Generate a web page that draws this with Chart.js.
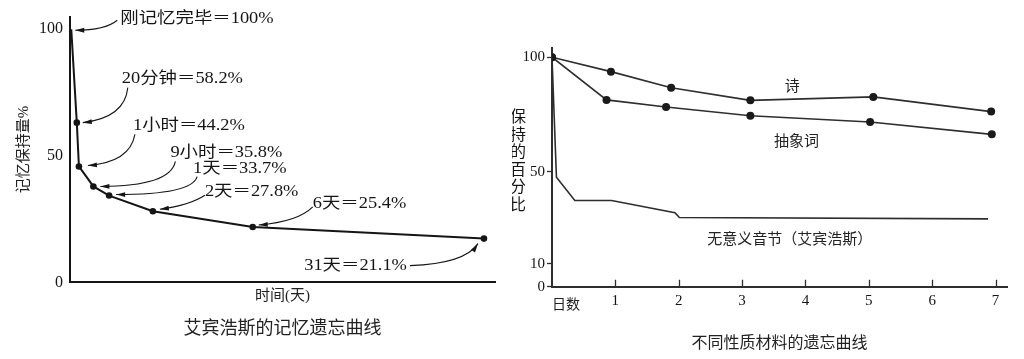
<!DOCTYPE html>
<html lang="zh">
<head>
<meta charset="utf-8">
<script src="https://cdn.jsdelivr.net/npm/chart.js@4.4.1/dist/chart.umd.min.js"></script>
<style>
  html, body { margin: 0; padding: 0; background: #fff; }
  #wrap { position: relative; width: 1024px; height: 359px; overflow: hidden; }
  .box { position: absolute; top: 0; width: 512px; height: 359px; }
  #leftBox { left: 0; }
  #rightBox { left: 512px; }
</style>
</head>
<body>
<div id="wrap">
  <div class="box" id="leftBox"><canvas id="ebbChart" width="512" height="359"></canvas></div>
  <div class="box" id="rightBox"><canvas id="matChart" width="512" height="359"></canvas></div>
</div>
<script>
// ─── Data ────────────────────────────────────────────────────────────────────

// Left: Ebbinghaus curve. The time axis is drawn schematically (not to scale),
// so x is the position along the drawn axis, 0–100.
const EBB_TIME_POS  = [0.3, 1.6, 2.1, 5.5, 9.2, 19.5, 43.0, 97.4];
const EBB_RETENTION = [100, 63.1, 45.8, 37.9, 34.3, 28.1, 21.9, 17.3];
const EBB_LABELS = [
  '刚记忆完毕＝100%',
  '20分钟＝58.2%',
  '1小时＝44.2%',
  '9小时＝35.8%',
  '1天＝33.7%',
  '2天＝27.8%',
  '6天＝25.4%',
  '31天＝21.1%',
];
const EBB_Y_TICKS = [0, 50, 100];

// Right: different materials, days vs percent retained
const POEM_DAYS       = [0, 0.93, 1.88, 3.13, 5.07, 6.93];
const POEM_VALUES     = [100, 93.7, 86.7, 81.2, 82.7, 76.3];
const ABSTRACT_DAYS   = [0, 0.86, 1.80, 3.13, 5.02, 6.94];
const ABSTRACT_VALUES = [100, 81.4, 78.3, 74.5, 71.8, 66.4];
const NONSENSE_DAYS   = [0, 0.07, 0.36, 0.94, 1.94, 2.01, 6.88];
const NONSENSE_VALUES = [100, 47.7, 37.6, 37.6, 32.3, 30.2, 29.6];
const DAY_TICKS = [1, 2, 3, 4, 5, 6, 7];
const PCT_TICKS = [0, 10, 50, 100];

// ─── Styles / layout ─────────────────────────────────────────────────────────

const SERIF = "'Liberation Serif', 'Noto Sans CJK SC', serif";
const SANS  = "'Noto Sans CJK SC', 'Noto Sans', sans-serif";
const INK   = '#151515';
const LINE2 = '#2e2e2e';

Chart.defaults.font.family = SERIF;
Chart.defaults.color = INK;

// annotation placement, px offsets from each point: text anchor, arrow start, curve control, arrow tip
const EBB_NOTE_LAYOUT = [
  { text: [49, -10],  from: [46, -9],  ctrl: [34, 1],   to: [4, 1] },
  { text: [45, -44],  from: [51, -35], ctrl: [48, -5],  to: [6, 0] },
  { text: [54, -41],  from: [56, -32], ctrl: [51, -4],  to: [9, -1] },
  { text: [77, -34],  from: [82, -25], ctrl: [77, 0],   to: [7, 0] },
  { text: [84, -27],  from: [88, -19], ctrl: [83, -1],  to: [7, -1] },
  { text: [52, -19],  from: [52, -16], ctrl: [37, -6],  to: [7, -2] },
  { text: [60, -23],  from: [60, -20], ctrl: [45, -5],  to: [6, -2] },
  { text: [-77, 27],  from: [-74, 27], ctrl: [-19, 25], to: [-6, 5], align: 'right' },
];
const NOTE_STRETCH = 1.15; // the scanned lettering is wider than it is tall

// series names on the right chart, in data units
const SERIES_NOTES = [
  { text: '诗',                   day: 3.79, pct: 87.9 },
  { text: '抽象词',               day: 3.86, pct: 64.0 },
  { text: '无意义音节（艾宾浩斯）', day: 3.75, pct: 21.3 },
];
const Y_TITLE_CHARS = ['保', '持', '的', '百', '分', '比'];

// ─── Helpers ─────────────────────────────────────────────────────────────────

function toPoints(xs, ys) {
  return xs.map((x, i) => ({ x, y: ys[i] }));
}

function drawArrow(ctx, x0, y0, cx, cy, x1, y1) {
  ctx.beginPath();
  ctx.moveTo(x0, y0);
  ctx.quadraticCurveTo(cx, cy, x1, y1);
  ctx.stroke();
  const a = Math.atan2(y1 - cy, x1 - cx);
  const len = 9, w = 2.4;
  const bx = x1 - len * Math.cos(a), by = y1 - len * Math.sin(a);
  ctx.beginPath();
  ctx.moveTo(x1, y1);
  ctx.lineTo(bx + w * Math.sin(a), by - w * Math.cos(a));
  ctx.lineTo(bx - w * Math.sin(a), by + w * Math.cos(a));
  ctx.closePath();
  ctx.fill();
}

// ─── Plugins ─────────────────────────────────────────────────────────────────

const ebbNotesPlugin = {
  id: 'ebbNotes',
  afterDraw(chart) {
    const { ctx } = chart;
    const meta = chart.getDatasetMeta(0);
    ctx.save();
    ctx.font = `16px ${SERIF}`;
    ctx.fillStyle = INK;
    ctx.strokeStyle = INK;
    ctx.lineWidth = 1.1;
    ctx.textBaseline = 'middle';
    EBB_NOTE_LAYOUT.forEach((n, i) => {
      const p = meta.data[i];
      ctx.save();
      ctx.translate(p.x + n.text[0], p.y + n.text[1]);
      ctx.scale(NOTE_STRETCH, 1);
      ctx.textAlign = n.align || 'left';
      ctx.fillText(EBB_LABELS[i], 0, 0);
      ctx.restore();
      drawArrow(ctx,
        p.x + n.from[0], p.y + n.from[1],
        p.x + n.ctrl[0], p.y + n.ctrl[1],
        p.x + n.to[0],   p.y + n.to[1]);
    });
    ctx.restore();
  },
};

const matDecorPlugin = {
  id: 'matDecor',
  afterDraw(chart) {
    const { ctx, scales: { x, y } } = chart;
    ctx.save();
    // inward tick marks on the day axis
    ctx.strokeStyle = LINE2;
    ctx.lineWidth = 1.3;
    ctx.beginPath();
    DAY_TICKS.forEach(d => {
      const px = Math.round(x.getPixelForValue(d)) + 0.5;
      ctx.moveTo(px, x.top);
      ctx.lineTo(px, x.top - 7);
    });
    ctx.stroke();

    // vertical y title
    ctx.fillStyle = INK;
    ctx.font = `16px ${SERIF}`;
    ctx.textAlign = 'center';
    ctx.textBaseline = 'middle';
    Y_TITLE_CHARS.forEach((ch, i) => ctx.fillText(ch, 6, 118 + i * 17.5));

    // series names
    ctx.font = `15px ${SANS}`;
    ctx.fillStyle = '#222';
    SERIES_NOTES.forEach(n => {
      ctx.fillText(n.text, x.getPixelForValue(n.day), y.getPixelForValue(n.pct));
    });
    ctx.restore();
  },
};

// ─── Left chart ──────────────────────────────────────────────────────────────

new Chart(document.getElementById('ebbChart'), {
  type: 'line',
  data: {
    datasets: [{
      data: toPoints(EBB_TIME_POS, EBB_RETENTION),
      borderColor: INK,
      borderWidth: 2,
      tension: 0,
      pointRadius: EBB_TIME_POS.map((_, i) => (i === 0 ? 0 : 3.3)),
      pointBackgroundColor: INK,
      pointBorderWidth: 0,
    }],
  },
  options: {
    responsive: false,
    animation: false,
    layout: { padding: { top: 16, right: 17, left: 0, bottom: 0 } },
    plugins: {
      legend: { display: false },
      tooltip: { enabled: false },
      title: {
        display: true,
        fullSize: false,
        position: 'bottom',
        text: '艾宾浩斯的记忆遗忘曲线',
        color: '#222',
        font: { size: 18, weight: 'normal' },
        padding: { top: 3, bottom: 19 },
      },
    },
    scales: {
      x: {
        type: 'linear',
        min: 0,
        max: 100,
        afterFit: s => { s.height = 33; },
        ticks: { display: false },
        grid: { drawOnChartArea: false, drawTicks: false },
        border: { color: INK, width: 2 },
        title: {
          display: true,
          text: '时间(天)',
          color: '#222',
          font: { size: 15 },
          padding: { top: 0, bottom: 10 },
        },
      },
      y: {
        min: 0,
        max: 105,
        afterBuildTicks: s => { s.ticks = EBB_Y_TICKS.map(v => ({ value: v })); },
        afterFit: s => { s.width = 70; },
        ticks: { padding: 7, color: INK, font: { size: 16 } },
        grid: { drawOnChartArea: false, drawTicks: false },
        border: { color: INK, width: 2 },
        title: {
          display: true,
          text: '记忆保持量%',
          color: '#222',
          font: { size: 15 },
          padding: { top: 15, bottom: 0 },
        },
      },
    },
  },
  plugins: [ebbNotesPlugin],
});

// ─── Right chart ─────────────────────────────────────────────────────────────

const dotStyle = {
  borderColor: LINE2,
  borderWidth: 1.6,
  tension: 0,
  pointRadius: 4,
  pointBackgroundColor: '#1a1a1a',
  pointBorderWidth: 0,
};

new Chart(document.getElementById('matChart'), {
  type: 'line',
  data: {
    datasets: [
      { label: '诗', data: toPoints(POEM_DAYS, POEM_VALUES), ...dotStyle },
      { label: '抽象词', data: toPoints(ABSTRACT_DAYS, ABSTRACT_VALUES), ...dotStyle },
      {
        label: '无意义音节（艾宾浩斯）',
        data: toPoints(NONSENSE_DAYS, NONSENSE_VALUES),
        borderColor: LINE2,
        borderWidth: 1.6,
        tension: 0,
        pointRadius: 0,
      },
    ],
  },
  options: {
    responsive: false,
    animation: false,
    layout: { padding: { top: 48, right: 17, left: 0, bottom: 0 } },
    plugins: {
      legend: { display: false },
      tooltip: { enabled: false },
      title: {
        display: true,
        fullSize: false,
        position: 'bottom',
        text: '不同性质材料的遗忘曲线',
        color: '#222',
        font: { size: 16, weight: 'normal' },
        padding: { top: 4, bottom: 6 },
      },
    },
    scales: {
      x: {
        type: 'linear',
        min: 0,
        max: 7.18,
        afterBuildTicks: s => { s.ticks = DAY_TICKS.map(v => ({ value: v })); },
        afterFit: s => { s.height = 43; },
        ticks: { padding: 5, color: INK, font: { size: 15 } },
        grid: { drawOnChartArea: false, drawTicks: false },
        border: { color: LINE2, width: 2 },
        title: {
          display: true,
          text: '日数',
          align: 'start',
          color: '#222',
          font: { family: SANS, size: 14 },
          padding: { top: 0, bottom: 18 },
        },
      },
      y: {
        min: 0,
        max: 104,
        afterBuildTicks: s => { s.ticks = PCT_TICKS.map(v => ({ value: v })); },
        afterFit: s => { s.width = 40; },
        ticks: { padding: 2, color: INK, font: { size: 15 } },
        grid: { drawOnChartArea: false, drawTicks: true, tickLength: 5, color: LINE2, tickWidth: 1.3 },
        border: { color: LINE2, width: 2 },
      },
    },
  },
  plugins: [matDecorPlugin],
});
</script>
</body>
</html>
